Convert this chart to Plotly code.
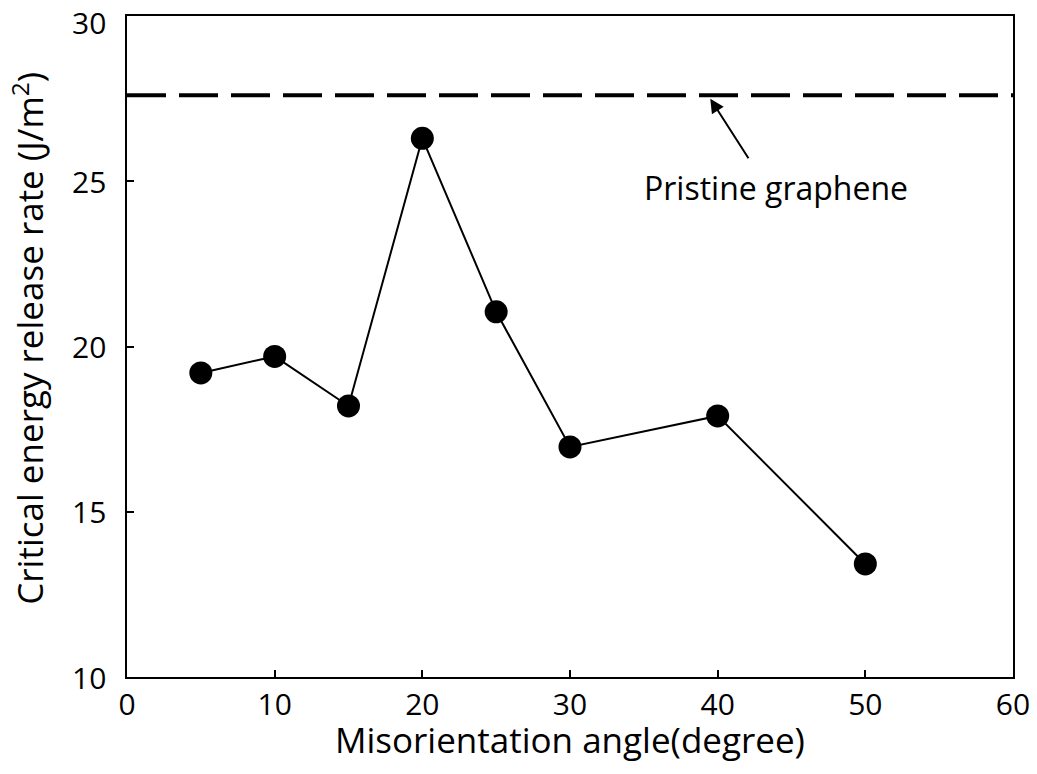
import plotly.graph_objects as go

# Misorientation angle (degree) and critical energy release rate (J/m^2)
angles = [5, 10, 15, 20, 25, 30, 40, 50]
release_rate = [19.2, 19.7, 18.2, 26.3, 21.05, 16.96, 17.9, 13.42]

# Reference level for pristine graphene
pristine_x = [0, 60]
pristine_rate = [27.6, 27.6]

x_ticks = [0, 10, 20, 30, 40, 50, 60]
y_ticks = [10, 15, 20, 25, 30]

FONT = "Open Sans"
TICK_SIZE = 30
TITLE_SIZE = 35

fig = go.Figure()

fig.add_trace(go.Scatter(
    x=pristine_x, y=pristine_rate, mode="lines",
    line=dict(color="black", width=4, dash="39px,13px"),
    hoverinfo="skip", showlegend=False,
))

fig.add_trace(go.Scatter(
    x=angles, y=release_rate, mode="lines+markers",
    line=dict(color="black", width=2),
    marker=dict(color="black", size=23),
    showlegend=False,
))

fig.add_annotation(
    x=39.5, y=27.5, ax=42.15, ay=25.65,
    xref="x", yref="y", axref="x", ayref="y",
    text="", showarrow=True, arrowhead=2, arrowsize=1.4, arrowwidth=2,
    arrowcolor="black",
)
fig.add_annotation(
    x=43.95, y=24.82, xref="x", yref="y",
    text="Pristine graphene", showarrow=False,
    font=dict(family=FONT, size=32, color="black"),
)

# y tick labels, right-aligned beside the axis; the top one is nudged down
# so it stays inside the figure
for v in y_ticks:
    fig.add_annotation(
        x=-0.021, y=v, xref="paper", yref="y",
        text=str(v), showarrow=False, xanchor="right", yanchor="middle",
        yshift=-6 if v == max(y_ticks) else 0,
        font=dict(family=FONT, size=TICK_SIZE, color="black"),
    )

# axis titles
fig.add_annotation(
    x=-0.1115, y=0.512, xref="paper", yref="paper",
    text="Critical energy release rate (J/m<sup>2</sup>)", textangle=-90,
    showarrow=False, xanchor="center", yanchor="middle",
    font=dict(family=FONT, size=TITLE_SIZE, color="black"),
)
fig.add_annotation(
    x=0.5, y=-0.095, xref="paper", yref="paper",
    text="Misorientation angle(degree)",
    showarrow=False, xanchor="center", yanchor="middle",
    font=dict(family=FONT, size=TITLE_SIZE, color="black"),
)

axis_common = dict(
    showgrid=False, zeroline=False, automargin=False,
    showline=True, linecolor="black", linewidth=2, mirror=True,
    ticks="inside", ticklen=7, tickwidth=2, tickcolor="black",
    tickfont=dict(family=FONT, size=TICK_SIZE, color="black"),
    ticklabeloverflow="allow",
)

fig.update_xaxes(
    range=[0, 60], tickvals=x_ticks, ticktext=[str(v) for v in x_ticks],
    **axis_common,
)
fig.update_yaxes(
    range=[10, 30], tickvals=y_ticks, showticklabels=False,
    **axis_common,
)

fig.update_layout(
    width=1037, height=774,
    margin=dict(l=127, r=24, t=16, b=97),
    plot_bgcolor="white", paper_bgcolor="white",
)

fig.write_html("out.html")
